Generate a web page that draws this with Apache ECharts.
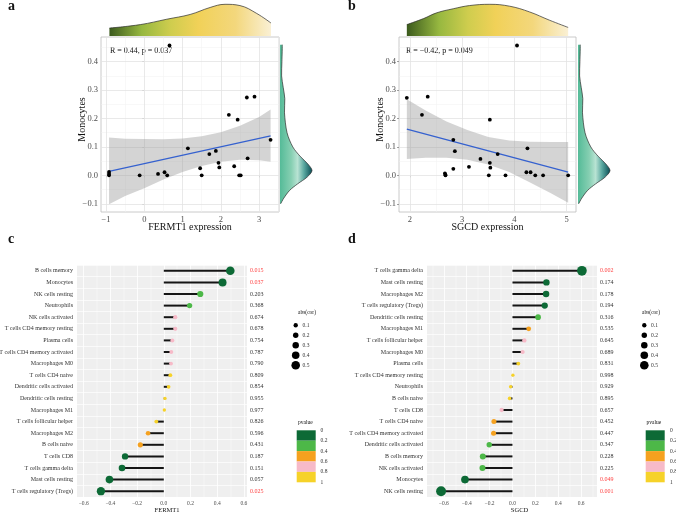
<!DOCTYPE html>
<html lang="en">
<head>
<meta charset="utf-8">
<title>FERMT1 / SGCD - Monocytes</title>
<script src="https://cdn.jsdelivr.net/npm/echarts@6/dist/echarts.min.js"></script>
<style>
    html, body { margin: 0; padding: 0; background: #fff; }
    #main { width: 676px; height: 517px; }
</style>
</head>
<body>
<div id="main"></div>
<script type="text/javascript">
var FONT = '"Liberation Serif", "Times New Roman", serif';

// ---- panel a : FERMT1 expression vs Monocytes ----
var fermt1Pts = [[-0.92, 0.012], [-0.92, 0.005], [-0.92, 0.0], [-0.12, 0.0], [0.36, 0.005], [0.53, 0.011],
    [0.60, 0.0], [0.66, 0.457], [1.14, 0.095], [1.46, 0.025], [1.50, 0.0], [1.70, 0.075], [1.87, 0.086],
    [1.94, 0.044], [1.96, 0.028], [2.21, 0.213], [2.35, 0.032], [2.44, 0.196], [2.48, 0.0], [2.52, 0.0],
    [2.68, 0.274], [2.70, 0.06], [2.88, 0.277], [3.30, 0.125]];
var fitA = [[-0.92, 0.014], [3.30, 0.139]];
var bandAx = [-0.92, -0.5, 0, 0.5, 1, 1.5, 2, 2.5, 3, 3.3];
var bandAhi = [0.133, 0.129, 0.128, 0.127, 0.130, 0.138, 0.152, 0.175, 0.205, 0.232];
var bandAlo = [-0.102, -0.073, -0.045, -0.015, 0.012, 0.033, 0.048, 0.055, 0.053, 0.048];
var densAx = [-0.91, -0.10, 0.59, 1.20, 1.72, 2.11, 2.50, 2.94, 3.31];
var densAh = [0.25, 0.36, 0.53, 0.68, 0.90, 1.0, 0.96, 0.71, 0.41];

// ---- panel b : SGCD expression vs Monocytes ----
var sgcdPts = [[1.94, 0.273], [2.23, 0.213], [2.34, 0.277], [2.67, 0.007], [2.68, 0.002], [2.68, 0.0],
    [2.83, 0.023], [2.83, 0.125], [2.86, 0.085], [3.13, 0.030], [3.35, 0.058], [3.51, 0.0], [3.53, 0.196],
    [3.53, 0.044], [3.54, 0.027], [3.68, 0.075], [3.83, 0.0], [4.05, 0.457], [4.23, 0.011], [4.25, 0.095],
    [4.31, 0.011], [4.40, 0.0], [4.55, 0.0], [5.03, 0.0]];
var fitB = [[1.94, 0.163], [5.03, 0.011]];
var bandBx = [1.94, 2.3, 2.7, 3.1, 3.5, 3.9, 4.3, 4.7, 5.03];
var bandBhi = [0.268, 0.228, 0.190, 0.160, 0.135, 0.123, 0.118, 0.117, 0.117];
var bandBlo = [0.058, 0.062, 0.062, 0.055, 0.038, 0.012, -0.025, -0.063, -0.096];
var densBx = [1.94, 2.26, 2.51, 2.83, 3.14, 3.53, 3.91, 4.29, 4.67, 5.03];
var densBh = [0.36, 0.55, 0.73, 0.86, 0.96, 1.0, 0.94, 0.76, 0.50, 0.27];

// Monocytes marginal density (same in a and b)
var monoDensY = [0.46, 0.40, 0.35, 0.31, 0.27, 0.22, 0.15, 0.10, 0.067, 0.04, 0.017, -0.006, -0.03, -0.053, -0.08, -0.10];
var monoDensW = [0.07, 0.06, 0.05, 0.10, 0.15, 0.14, 0.22, 0.40, 0.63, 0.87, 1.0, 0.85, 0.55, 0.30, 0.12, 0.02];

// ---- panel c : FERMT1 lollipop ----
var cellsC = ['B cells memory', 'Monocytes', 'NK cells resting', 'Neutrophils', 'NK cells activated',
    'T cells CD4 memory resting', 'Plasma cells', 'T cells CD4 memory activated', 'Macrophages M0',
    'T cells CD4 naive', 'Dendritic cells activated', 'Dendritic cells resting', 'Macrophages M1',
    'T cells follicular helper', 'Macrophages M2', 'B cells naive', 'T cells CD8', 'T cells gamma delta',
    'Mast cells resting', 'T cells regulatory (Tregs)'];
var corC = [0.498, 0.44, 0.273, 0.193, 0.086, 0.086, 0.064, 0.056, 0.054, 0.049, 0.036, 0.009, 0.004,
    -0.056, -0.118, -0.176, -0.29, -0.313, -0.407, -0.471];
var pC = [0.015, 0.037, 0.203, 0.368, 0.674, 0.678, 0.754, 0.787, 0.790, 0.809, 0.854, 0.955, 0.977,
    0.826, 0.596, 0.431, 0.187, 0.151, 0.057, 0.025];

// ---- panel d : SGCD lollipop ----
var cellsD = ['T cells gamma delta', 'Mast cells resting', 'Macrophages M2', 'T cells regulatory (Tregs)',
    'Dendritic cells resting', 'Macrophages M1', 'T cells follicular helper', 'Macrophages M0', 'Plasma cells',
    'T cells CD4 memory resting', 'Neutrophils', 'B cells naive', 'T cells CD8', 'T cells CD4 naive',
    'T cells CD4 memory activated', 'Dendritic cells activated', 'B cells memory', 'NK cells activated',
    'Monocytes', 'NK cells resting'];
var corD = [0.607, 0.297, 0.294, 0.282, 0.224, 0.142, 0.104, 0.089, 0.051, 0.004, -0.016, -0.025, -0.095,
    -0.162, -0.165, -0.203, -0.259, -0.262, -0.415, -0.624];
var pD = [0.002, 0.174, 0.178, 0.194, 0.316, 0.535, 0.645, 0.689, 0.831, 0.998, 0.929, 0.895, 0.657,
    0.452, 0.447, 0.347, 0.228, 0.225, 0.049, 0.001];

// ticks / legends
var ticksAx = [-1, 0, 1, 2, 3];
var ticksBx = [2, 3, 4, 5];
var ticksMono = [-0.1, 0, 0.1, 0.2, 0.3, 0.4];
var ticksCor = [-0.6, -0.4, -0.2, 0, 0.2, 0.4, 0.6];
var sizeBreaks = [0.1, 0.2, 0.3, 0.4, 0.5];
var pBreaks = ['0', '0.2', '0.4', '0.6', '0.8', '1'];
var pColors = ['#0d6a36', '#4db848', '#f5a11f', '#f7bac8', '#f6d229'];

function pColor(p) { return pColors[Math.min(4, Math.floor(p / 0.2))]; }
function dotSize(v) { return 3.3 + 10.6 * Math.abs(v); }
function fmt(v, d) { var s = Math.abs(v).toFixed(d); return v < 0 ? '\u2212' + s : s; }

function pairs(xs, ys) { return xs.map(function (x, i) { return [x, ys[i]]; }); }

function gridMarks(xMaj, xMin, yMaj, yMin, cMaj, cMin, wMaj, wMin) {
    var d = [];
    xMin.forEach(function (v) { d.push({xAxis: v, lineStyle: {color: cMin, width: wMin}}); });
    yMin.forEach(function (v) { d.push({yAxis: v, lineStyle: {color: cMin, width: wMin}}); });
    xMaj.forEach(function (v) { d.push({xAxis: v, lineStyle: {color: cMaj, width: wMaj}}); });
    yMaj.forEach(function (v) { d.push({yAxis: v, lineStyle: {color: cMaj, width: wMaj}}); });
    return {
        silent: true, symbol: ['none', 'none'], label: {show: false}, z: 1, animation: false,
        emphasis: {disabled: true}, lineStyle: {type: 'solid'}, data: d
    };
}

var topGrad = new echarts.graphic.LinearGradient(0, 0, 1, 0, [
    {offset: 0, color: '#3b5a1d'}, {offset: 0.2, color: '#97b840'}, {offset: 0.38, color: '#cfcd4e'},
    {offset: 0.55, color: '#f1d158'}, {offset: 0.78, color: '#f3d77c'}, {offset: 1, color: '#faf0d4'}
]);
var sideGrad = new echarts.graphic.LinearGradient(0, 0, 1, 0, [
    {offset: 0, color: '#55bb98'}, {offset: 0.35, color: '#86cfb2'}, {offset: 0.55, color: '#b8e3d3'},
    {offset: 0.75, color: '#5aa8a0'}, {offset: 1, color: '#0b4f56'}
]);

function bandItem(xs, hi, lo) {
    return function (params, api) {
        if (params.dataIndex > 0) return;
        var pts = [], i;
        for (i = 0; i < xs.length; i++) pts.push(api.coord([xs[i], hi[i]]));
        for (i = xs.length - 1; i >= 0; i--) pts.push(api.coord([xs[i], lo[i]]));
        return {type: 'polygon', shape: {points: pts}, style: {fill: 'rgba(153,153,153,0.42)'}};
    };
}

function sideDensity(params, api) {
    if (params.dataIndex > 0) return;
    var pts = monoDensY.map(function (y, i) { return api.coord([monoDensW[i], y]); });
    var b0 = api.coord([0, monoDensY[0]]);
    var b1 = api.coord([0, monoDensY[monoDensY.length - 1]]);
    var poly = [b0].concat(pts, [b1]);
    var lo = [Math.min.apply(null, poly.map(function (p) { return p[0]; })),
        Math.min.apply(null, poly.map(function (p) { return p[1]; }))];
    var hi = [Math.max.apply(null, poly.map(function (p) { return p[0]; })),
        Math.max.apply(null, poly.map(function (p) { return p[1]; }))];
    return {
        type: 'group', children: [
            {type: 'polygon', shape: {points: poly, smooth: 0.3, smoothConstraint: [lo, hi]},
                style: {fill: sideGrad}},
            {type: 'polyline', shape: {points: pts, smooth: 0.3, smoothConstraint: [lo, hi]},
                style: {stroke: '#2b2b2b', lineWidth: 0.7, fill: null}}
        ]
    };
}

function scatterXAxis(grid, min, max, ticks, name) {
    return {
        type: 'value', gridIndex: grid, min: min, max: max,
        axisLine: {show: false},
        axisTick: {show: true, customValues: ticks, length: 2, lineStyle: {color: '#777', width: 0.7}},
        axisLabel: {customValues: ticks, margin: 3, fontSize: 8.5, fontFamily: FONT, color: '#4d4d4d',
            formatter: function (v) { return fmt(v, 0); }},
        splitLine: {show: false},
        name: name, nameLocation: 'middle', nameGap: 10, nameMoveOverlap: false,
        nameTextStyle: {fontFamily: FONT, fontSize: 10, color: '#111'}
    };
}
function monoYAxis(grid) {
    return {
        type: 'value', gridIndex: grid, min: -0.129, max: 0.487,
        axisLine: {show: false},
        axisTick: {show: true, customValues: ticksMono, length: 2, lineStyle: {color: '#777', width: 0.7}},
        axisLabel: {customValues: ticksMono, margin: 3, fontSize: 8.5, fontFamily: FONT, color: '#4d4d4d',
            formatter: function (v) { return fmt(v, 1); }},
        splitLine: {show: false},
        name: 'Monocytes', nameLocation: 'middle', nameGap: 14, nameMoveOverlap: false,
        nameTextStyle: {fontFamily: FONT, fontSize: 10, color: '#111', padding: [0, 0, 0, 10]}
    };
}
function hidden(grid, min, max) {
    return {type: 'value', gridIndex: grid, min: min, max: max, show: false, splitLine: {show: false}};
}
function corXAxis(grid, min, max, name, shift) {
    return {
        type: 'value', gridIndex: grid, min: min, max: max,
        axisLine: {show: false}, axisTick: {show: false},
        axisLabel: {customValues: ticksCor, margin: 4, fontSize: 5.5, fontFamily: FONT, color: '#4d4d4d',
            formatter: function (v) { return fmt(v, 1); }},
        splitLine: {show: false},
        name: name, nameLocation: 'middle', nameGap: 10, nameMoveOverlap: false,
        nameTextStyle: {fontFamily: FONT, fontSize: 6.5, color: '#111', padding: [0, 0, 0, shift]}
    };
}
function cellAxis(grid, cells) {
    return {
        type: 'category', gridIndex: grid, data: cells, inverse: true,
        axisLine: {show: false}, axisTick: {show: false},
        axisLabel: {interval: 0, margin: 4, fontSize: 6, fontFamily: FONT, color: '#333'},
        splitLine: {show: true, lineStyle: {color: '#ffffff', width: 0.7}}
    };
}
function pAxis(grid, ps) {
    return {
        type: 'category', gridIndex: grid, position: 'right', inverse: true,
        data: ps.map(function (p) { return p.toFixed(3); }),
        axisLine: {show: false}, axisTick: {show: false}, splitLine: {show: false},
        axisLabel: {interval: 0, margin: 3, fontSize: 6, fontFamily: FONT,
            color: function (v) { return parseFloat(v) < 0.05 ? '#ff4040' : '#333'; }}
    };
}

function lollipop(grid, cors, ps) {
    return [
        {
            type: 'bar', xAxisIndex: grid, yAxisIndex: grid, data: cors, barWidth: 2, z: 2, silent: true,
            itemStyle: {color: '#151515'},
            markLine: gridMarks(ticksCor, [-0.7, -0.5, -0.3, -0.1, 0.1, 0.3, 0.5, 0.7], [], [],
                '#ffffff', '#ffffff', 0.8, 0.4)
        },
        {
            type: 'scatter', xAxisIndex: grid, yAxisIndex: grid, z: 3, silent: true,
            data: cors.map(function (v, i) {
                return {value: [v, i], symbolSize: dotSize(v), itemStyle: {color: pColor(ps[i]), opacity: 1}};
            })
        }
    ];
}

function scatterSeries(grid, pts, fit, bx, bhi, blo, xMaj, xMin) {
    return [
        {
            type: 'custom', xAxisIndex: grid, yAxisIndex: grid, z: 2, silent: true,
            renderItem: bandItem(bx, bhi, blo),
            data: bx.map(function (x, i) { return [x, bhi[i], blo[i]]; }),
            encode: {x: 0, y: [1, 2]}
        },
        {
            type: 'line', xAxisIndex: grid, yAxisIndex: grid, z: 3, silent: true, data: fit,
            symbol: 'none', lineStyle: {color: '#3561cf', width: 1.3}
        },
        {
            type: 'scatter', xAxisIndex: grid, yAxisIndex: grid, z: 4, silent: true, data: pts,
            symbolSize: 3.8, itemStyle: {color: '#000', opacity: 1},
            markLine: gridMarks(xMaj, xMin, ticksMono, [-0.05, 0.05, 0.15, 0.25, 0.35, 0.45],
                '#e3e3e3', '#f0f0f0', 0.8, 0.5)
        }
    ];
}

function topDensity(grid, xs, hs) {
    return {
        type: 'line', xAxisIndex: grid, yAxisIndex: grid, data: pairs(xs, hs), smooth: 0.4,
        symbol: 'none', silent: true, lineStyle: {color: '#2b2b2b', width: 0.7},
        areaStyle: {color: topGrad, opacity: 1}
    };
}
function rightDensity(grid) {
    return {
        type: 'custom', xAxisIndex: grid, yAxisIndex: grid, silent: true, renderItem: sideDensity,
        data: pairs(monoDensW, monoDensY), encode: {x: 0, y: 1}
    };
}

// legends and panel letters
var graphics = [];
function txt(x, y, s, size, opt) {
    opt = opt || {};
    graphics.push({
        type: 'text', x: x, y: y, silent: true,
        style: {
            text: s, fill: opt.color || '#111',
            font: (opt.bold ? 'bold ' : '') + size + 'px ' + FONT,
            textAlign: opt.align || 'left', align: opt.align || 'left',
            textVerticalAlign: opt.valign || 'middle', verticalAlign: opt.valign || 'middle'
        }
    });
}
txt(8, 13, 'a', 14, {bold: true, valign: 'bottom'});
txt(348, 13, 'b', 14, {bold: true, valign: 'bottom'});
txt(8, 246, 'c', 14, {bold: true, valign: 'bottom'});
txt(348, 246, 'd', 14, {bold: true, valign: 'bottom'});
txt(110, 51, 'R = 0.44, p = 0.037', 8);
txt(406, 51, 'R = \u22120.42, p = 0.049', 8);

function legends(L) {
    txt(L.tx, 313, 'abs(cor)', 5.5);
    sizeBreaks.forEach(function (v, i) {
        var cy = 325.3 + i * 10;
        graphics.push({type: 'circle', silent: true, shape: {cx: L.cx, cy: cy, r: dotSize(v) / 2},
            style: {fill: '#000'}});
        txt(L.lx, cy, String(v), 5.5, {color: '#333'});
    });
    txt(L.ptx, 423, 'pvalue', 5.5);
    pColors.forEach(function (c, i) {
        graphics.push({type: 'rect', silent: true,
            shape: {x: L.bx, y: 430.3 + i * 10.4, width: 19, height: 10.4}, style: {fill: c}});
    });
    pBreaks.forEach(function (s, i) {
        txt(L.blx, 430.3 + i * 10.4, s, 5.5, {color: '#333'});
    });
}
legends({tx: 298, cx: 295.7, lx: 302.5, ptx: 298, bx: 296.7, blx: 320.5});
legends({tx: 642, cx: 644.3, lx: 651, ptx: 646.5, bx: 645.7, blx: 670});

var option = {
    animation: false,
    textStyle: {fontFamily: FONT},
    graphic: graphics,
    grid: [
        {left: 101, top: 37, width: 178, height: 175, show: true, borderColor: '#bdbdbd', borderWidth: 0.8,
            backgroundColor: 'transparent', outerBoundsMode: 'none'},
        {left: 101, top: 0, width: 178, height: 36, outerBoundsMode: 'none'},
        {left: 280, top: 37, width: 37, height: 175, outerBoundsMode: 'none'},
        {left: 399, top: 37, width: 177, height: 175, show: true, borderColor: '#bdbdbd', borderWidth: 0.8,
            backgroundColor: 'transparent', outerBoundsMode: 'none'},
        {left: 399, top: 0, width: 177, height: 36, outerBoundsMode: 'none'},
        {left: 578, top: 37, width: 37, height: 175, outerBoundsMode: 'none'},
        {left: 77, top: 265, width: 170, height: 232, show: true, backgroundColor: '#efefef', borderWidth: 0,
            outerBoundsMode: 'none'},
        {left: 427, top: 265, width: 170, height: 232, show: true, backgroundColor: '#efefef', borderWidth: 0,
            outerBoundsMode: 'none'}
    ],
    xAxis: [
        scatterXAxis(0, -1.13, 3.52, ticksAx, 'FERMT1 expression'),
        hidden(1, -1.13, 3.52),
        hidden(2, 0, 1.156),
        scatterXAxis(3, 1.79, 5.18, ticksBx, 'SGCD expression'),
        hidden(4, 1.79, 5.18),
        hidden(5, 0, 1.156),
        corXAxis(6, -0.65, 0.623, 'FERMT1', 10),
        corXAxis(7, -0.747, 0.739, 'SGCD', 15)
    ],
    yAxis: [
        monoYAxis(0),
        hidden(1, 0, 1.136),
        hidden(2, -0.129, 0.487),
        monoYAxis(3),
        hidden(4, 0, 1.136),
        hidden(5, -0.129, 0.487),
        cellAxis(6, cellsC),
        cellAxis(7, cellsD),
        pAxis(6, pC),
        pAxis(7, pD)
    ],
    series: [].concat(
        scatterSeries(0, fermt1Pts, fitA, bandAx, bandAhi, bandAlo, ticksAx, [-0.5, 0.5, 1.5, 2.5, 3.5]),
        [topDensity(1, densAx, densAh), rightDensity(2)],
        scatterSeries(3, sgcdPts, fitB, bandBx, bandBhi, bandBlo, ticksBx, [2.5, 3.5, 4.5]),
        [topDensity(4, densBx, densBh), rightDensity(5)],
        lollipop(6, corC, pC),
        lollipop(7, corD, pD)
    )
};

var myChart = echarts.init(document.getElementById('main'));
myChart.setOption(option);
</script>
</body>
</html>
